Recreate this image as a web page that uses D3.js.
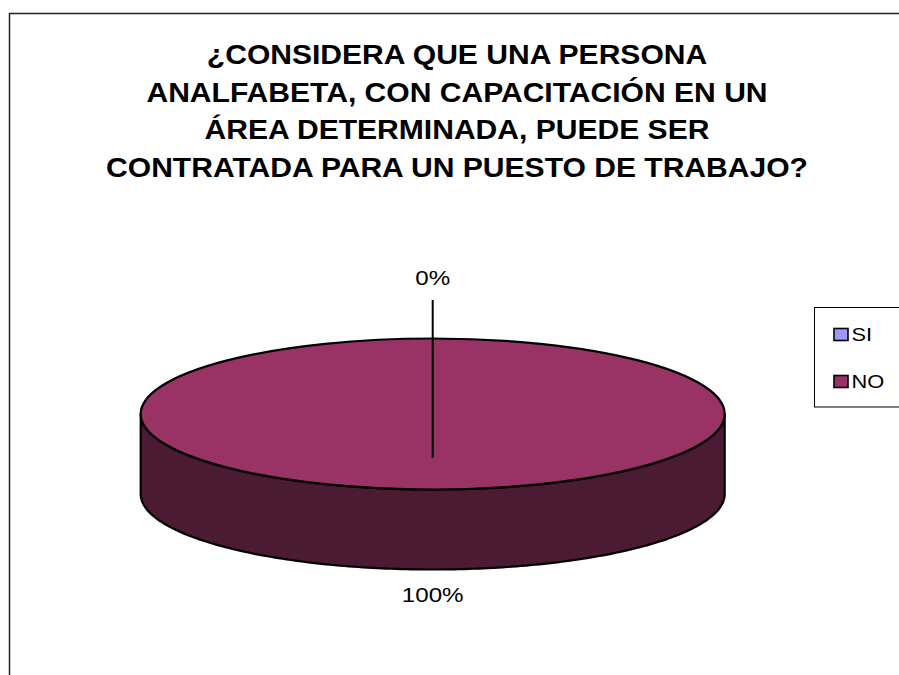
<!DOCTYPE html>
<html><head><meta charset="utf-8">
<script src="https://cdn.jsdelivr.net/npm/d3@7"></script>
<style>html,body{margin:0;padding:0;background:#fff;}svg{display:block;}</style>
</head><body>
<svg id="c" width="899" height="675"></svg>
<script>
const titleLines = ["¿CONSIDERA QUE UNA PERSONA","ANALFABETA, CON CAPACITACIÓN EN UN","ÁREA DETERMINADA, PUEDE SER","CONTRATADA PARA UN PUESTO DE TRABAJO?"];
const categories = ["SI","NO"];
const values = [0, 100];
const labels = ["0%","100%"];
const topColors = ["#9999FF","#993366"];
const sideColors = ["#4D4D80","#4B1A33"];

const svg = d3.select("#c");
const font = "'Liberation Sans', Arial, sans-serif";

function stretchedText(parent, x, y, sx, txt, anchor, size, weight){
  return parent.append("g").attr("transform",`translate(${x},${y}) scale(${sx},1)`)
    .append("text").attr("x",0).attr("y",0).attr("text-anchor",anchor)
    .attr("font-family",font).attr("font-size",size).attr("font-weight",weight||"normal")
    .attr("fill","#000").text(txt);
}

// chart border
svg.append("rect").attr("x",9.5).attr("y",13.5).attr("width",1000).attr("height",1000)
  .attr("fill","#fff").attr("stroke","#222").attr("stroke-width",1.5);

// title
titleLines.forEach((l,i)=>stretchedText(svg, 457, 64+i*37.6, 1.055, l, "middle", 28.5, "bold"));

// 3D pie
const cx=432.7, cy=414, rx=292, ry=75.5, depth=80;
const pie = d3.pie().sort(null).value(d=>d)(values);
const px = a => cx + rx*Math.sin(a);
const py = a => cy - ry*Math.cos(a);

function topPath(s){
  const span = s.endAngle - s.startAngle;
  if (span >= 2*Math.PI - 1e-6){
    return `M${cx-rx},${cy}A${rx},${ry} 0 1 1 ${cx+rx},${cy}A${rx},${ry} 0 1 1 ${cx-rx},${cy}Z`;
  }
  const n = Math.max(2, Math.ceil(span*60));
  let p = `M${cx},${cy}`;
  for (let i=0;i<=n;i++){ const a=s.startAngle+span*i/n; p+=`L${px(a)},${py(a)}`; }
  return p+"Z";
}
function sidePath(s){
  const a0 = Math.max(s.startAngle, Math.PI/2), a1 = Math.min(s.endAngle, 3*Math.PI/2);
  if (a1 <= a0) return null;
  const n = Math.max(2, Math.ceil((a1-a0)*60));
  const pts = [];
  for (let i=0;i<=n;i++){ const a=a0+(a1-a0)*i/n; pts.push([px(a),py(a)]); }
  let p = `M${pts[0][0]},${pts[0][1]}`;
  pts.forEach(q=>p+=`L${q[0]},${q[1]}`);
  for (let i=pts.length-1;i>=0;i--) p+=`L${pts[i][0]},${pts[i][1]+depth}`;
  return p+"Z";
}
const g = svg.append("g");
pie.forEach((s,i)=>{
  if (s.value<=0) return;
  const sp = sidePath(s);
  if (sp) g.append("path").attr("d",sp).attr("fill",sideColors[i]).attr("stroke","#000").attr("stroke-width",2.2).attr("stroke-linejoin","round");
});
pie.forEach((s,i)=>{
  if (s.value<=0) return;
  g.append("path").attr("d",topPath(s)).attr("fill",topColors[i]).attr("stroke","#000").attr("stroke-width",2.2);
});

// labels
pie.forEach((s,i)=>{
  const mid = (s.startAngle+s.endAngle)/2;
  const onTop = Math.cos(mid) > 0;
  const lx = px(mid);
  let ly;
  if (onTop){
    ly = cy - ry*1.71;
    svg.append("line").attr("x1",lx).attr("x2",lx).attr("y1",cy-ry*1.51).attr("y2",cy+ry*0.58)
      .attr("stroke","#000").attr("stroke-width",2);
  } else {
    ly = cy + ry + depth + 32;
  }
  stretchedText(svg, lx, ly, 1.15, labels[i], "middle", 21);
});

// legend
const lg = svg.append("g");
lg.append("rect").attr("x",814.5).attr("y",307.5).attr("width",100).attr("height",99.5)
  .attr("fill","#fff").attr("stroke","#000").attr("stroke-width",1);
categories.forEach((c,i)=>{
  const y = 328 + i*47;
  lg.append("rect").attr("x",834).attr("y",y+0.5).attr("width",14).attr("height",12)
    .attr("fill",topColors[i]).attr("stroke","#000").attr("stroke-width",1.6);
  stretchedText(lg, 851.5, y+13, 1.18, c, "start", 18.5);
});
</script>
</body></html>
